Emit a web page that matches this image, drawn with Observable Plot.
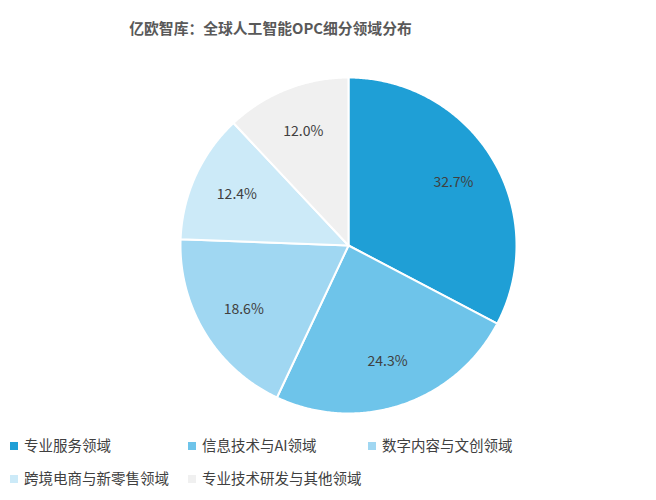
<!DOCTYPE html>
<html><head><meta charset="utf-8">
<script src="https://cdn.jsdelivr.net/npm/d3@7"></script>
<script src="https://cdn.jsdelivr.net/npm/@observablehq/plot@0.6"></script>
<style>
body{margin:0;background:#fff;font-family:"Noto Sans CJK SC","Noto Sans",sans-serif;}
#wrap{position:relative;width:656px;height:500px;overflow:hidden;}
#title{position:absolute;top:0;left:0;width:541px;height:58px;line-height:56px;text-align:center;font-size:14.8px;font-weight:bold;color:#595959;}
#chart{position:absolute;top:58px;left:0;}
.lg{position:absolute;font-size:14.5px;color:#404040;white-space:nowrap;line-height:20px;}
.lg i{display:inline-block;width:8px;height:8px;margin-right:6px;vertical-align:1px;}
</style></head>
<body><div id="wrap"><div id="title">亿欧智库：全球人工智能OPC细分领域分布</div><div id="chart"></div></div>
<script>
const categories = ["专业服务领域","信息技术与AI领域","数字内容与文创领域","跨境电商与新零售领域","专业技术研发与其他领域"];
const values = [32.7, 24.3, 18.6, 12.4, 12.0];
const colors = ["#1f9fd6","#6ec4ea","#a0d7f2","#cceaf8","#f0f0f0"];
const labels = ["32.7%","24.3%","18.6%","12.4%","12.0%"];

const total = d3.sum(values);
const pts = [];
const lab = [];
let acc = 0;
categories.forEach((c, i) => {
  const a0 = acc / total * 2 * Math.PI;
  acc += values[i];
  const a1 = acc / total * 2 * Math.PI;
  pts.push({c, x: 0, y: 0});
  const n = Math.max(2, Math.ceil((a1 - a0) / (Math.PI / 360)));
  for (let k = 0; k <= n; k++) {
    const a = a0 + (a1 - a0) * k / n;
    pts.push({c, x: Math.sin(a), y: Math.cos(a)});
  }
  pts.push({c, x: 0, y: 0});
  const m = (a0 + a1) / 2;
  const r = 0.73;
  lab.push({c, t: labels[i], x: r * Math.sin(m), y: r * Math.cos(m)});
});

const cx = 348, cy = 245 - 58, R = 168;
const plot = Plot.plot({
  width: 656, height: 362,
  margin: 0,
  x: {domain: [-1, 1], range: [cx - R, cx + R], axis: null},
  y: {domain: [-1, 1], range: [cy + R, cy - R], axis: null},
  color: {domain: categories, range: colors},
  style: {fontFamily: '"Noto Sans CJK SC","Noto Sans",sans-serif', background: "#fff"},
  marks: [
    Plot.line(pts, {x: "x", y: "y", z: "c", fill: "c", stroke: "#fff", strokeWidth: 2, strokeLinejoin: "round"}),
    Plot.text(lab, {x: "x", y: "y", text: "t", fill: "#404040", fontSize: 14})
  ]
});
document.getElementById("chart").appendChild(plot);

const legPos = [[10,435],[188,435],[368,435],[10,468],[188,468]];
const wrap = document.getElementById("wrap");
categories.forEach((c, i) => {
  const d = document.createElement("div");
  d.className = "lg";
  d.style.left = legPos[i][0] + "px";
  d.style.top = legPos[i][1] + "px";
  d.innerHTML = `<i style="background:${colors[i]}"></i>${c}`;
  wrap.appendChild(d);
});
</script></body></html>
